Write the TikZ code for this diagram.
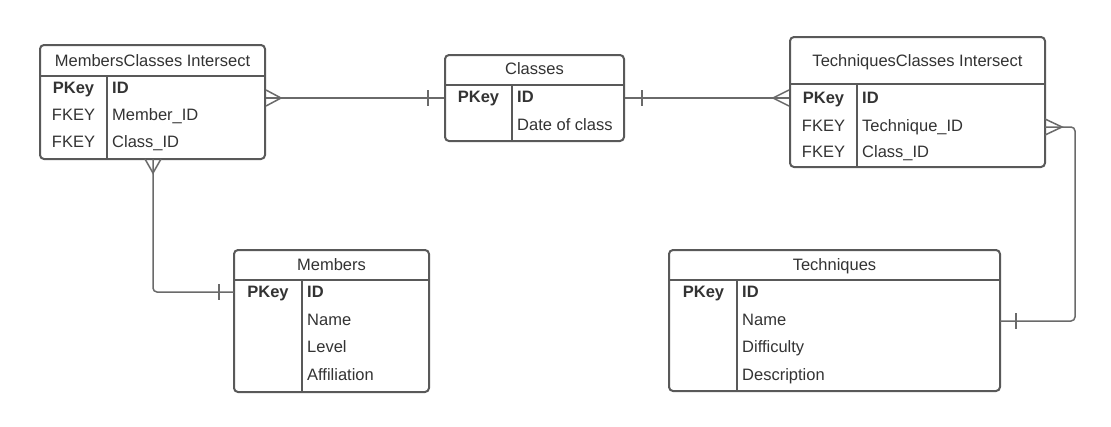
\documentclass[tikz,border=0pt]{standalone}
\usepackage{fontspec}
\setmainfont{Liberation Sans}
\usetikzlibrary{fit}
\definecolor{boxln}{HTML}{595959}
\definecolor{conln}{HTML}{6A6A6A}
\definecolor{txt}{HTML}{333333}
\begin{document}
\begin{tikzpicture}[x=1pt,y=-1pt,
  ent/.style={draw=boxln, line width=2pt, rounded corners=4pt, inner sep=0pt},
  sep/.style={draw=boxln, line width=2pt},
  con/.style={draw=conln, line width=1.5pt},
  hd/.style={text=txt, font=\fontsize{16.5}{19}\selectfont, inner sep=0pt, anchor=base},
  kc/.style={text=txt, font=\fontsize{16.5}{19}\selectfont, inner sep=0pt, anchor=base},
  fc/.style={text=txt, font=\fontsize{16.5}{19}\selectfont, inner sep=0pt, anchor=base west},
]
\useasboundingbox (0,0) rectangle (1111,426);
\fill[white] (0,0) rectangle (1111,426);

% MembersClasses Intersect
\node[ent, fit={(40,45)(265,159)}] (mc) {};
\draw[sep] (40,76) -- (265,76);
\draw[sep] (107,76) -- (107,159);
\node[hd] (mct) at (152.5,66) {MembersClasses Intersect};
\node[kc] (mck1) at (73.5,93.5) {\bfseries PKey};
\node[kc] (mck2) at (73.5,120.5) {FKEY};
\node[kc] (mck3) at (73.5,147.5) {FKEY};
\node[fc] (mcf1) at (112,93.5) {\bfseries ID};
\node[fc] (mcf2) at (112,120.5) {Member\_ID};
\node[fc] (mcf3) at (112,147.5) {Class\_ID};

% Classes
\node[ent, fit={(445,55)(624,141)}] (cl) {};
\draw[sep] (445,84.5) -- (624,84.5);
\draw[sep] (512,84.5) -- (512,141);
\node[hd] (clt) at (534.5,74) {Classes};
\node[kc] (clk1) at (478.5,102.5) {\bfseries PKey};
\node[fc] (clf1) at (517,102.5) {\bfseries ID};
\node[fc] (clf2) at (517,130.5) {Date of class};

% TechniquesClasses Intersect
\node[ent, fit={(790,37)(1045,167)}] (tc) {};
\draw[sep] (790,84) -- (1045,84);
\draw[sep] (857,84) -- (857,167);
\node[hd] (tct) at (917.5,66) {TechniquesClasses Intersect};
\node[kc] (tck1) at (823.5,103.5) {\bfseries PKey};
\node[kc] (tck2) at (823.5,131.5) {FKEY};
\node[kc] (tck3) at (823.5,157.5) {FKEY};
\node[fc] (tcf1) at (862,103.5) {\bfseries ID};
\node[fc] (tcf2) at (862,131.5) {Technique\_ID};
\node[fc] (tcf3) at (862,157.5) {Class\_ID};

% Members
\node[ent, fit={(234,250)(429,392)}] (me) {};
\draw[sep] (234,280) -- (429,280);
\draw[sep] (302,280) -- (302,392);
\node[hd] (met) at (331.5,270.5) {Members};
\node[kc] (mek1) at (268,297.5) {\bfseries PKey};
\node[fc] (mef1) at (307,297.5) {\bfseries ID};
\node[fc] (mef2) at (307,325.5) {Name};
\node[fc] (mef3) at (307,352.5) {Level};
\node[fc] (mef4) at (307,380.5) {Affiliation};

% Techniques
\node[ent, fit={(669,250)(1000,391)}] (te) {};
\draw[sep] (669,280) -- (1000,280);
\draw[sep] (737,280) -- (737,391);
\node[hd] (tet) at (834.5,270.5) {Techniques};
\node[kc] (tek1) at (703.5,297.5) {\bfseries PKey};
\node[fc] (tef1) at (742,297.5) {\bfseries ID};
\node[fc] (tef2) at (742,325.5) {Name};
\node[fc] (tef3) at (742,352.5) {Difficulty};
\node[fc] (tef4) at (742,380.5) {Description};

% attachment points
\coordinate (a1) at (mc.east |- cl.west);
\coordinate (b1) at (cl.west);
\coordinate (a2) at (cl.east);
\coordinate (b2) at (tc.west |- cl.east);
\coordinate (a3) at (1045,127);
\coordinate (c3) at (1075,127);
\coordinate (b3) at (1000,321);
\coordinate (a4) at (153,159);
\coordinate (b4) at (234,292);

% MC -- Classes
\draw[con] (a1) -- (b1);
\draw[con] (a1) ++(0,-8) -- ++(15,8) -- ++(-15,8);
\draw[con] (b1) ++(-16,-8) -- ++(0,16);

% Classes -- TC
\draw[con] (a2) -- (b2);
\draw[con] (a2) ++(17,-8) -- ++(0,16);
\draw[con] (b2) ++(0,-8) -- ++(-16,8) -- ++(16,8);

% TC -- Techniques
\draw[con, rounded corners=4pt] (a3) -- (c3) -- (c3 |- b3) -- (b3);
\draw[con] (a3) ++(0,-8) -- ++(17,8) -- ++(-17,8);
\draw[con] (b3) ++(16,-8) -- ++(0,16);

% MC -- Members
\draw[con, rounded corners=4pt] (a4) -- (a4 |- b4) -- (b4);
\draw[con] (a4) ++(-8,0) -- ++(8,14) -- ++(8,-14);
\draw[con] (b4) ++(-15,-8) -- ++(0,16);
\end{tikzpicture}
\end{document}
